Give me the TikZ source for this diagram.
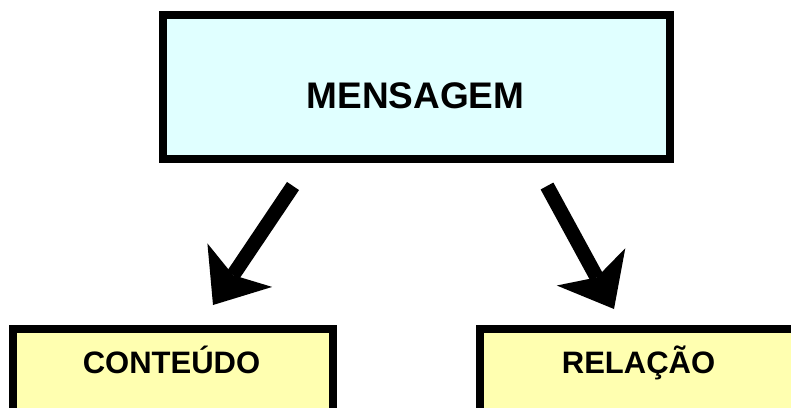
\documentclass[tikz,border=0pt]{standalone}
\usepackage{fontspec}
\setmainfont{Liberation Sans}
\usetikzlibrary{arrows.meta}
\definecolor{msgfill}{RGB}{224,255,255}
\definecolor{boxfill}{RGB}{255,255,176}

\begin{document}
\begin{tikzpicture}[x=1pt,y=-1pt,
		framebox/.style={draw,line width=8pt,inner sep=0pt},
		bigarrow/.style={line width=14.5pt,-{Stealth[length=48pt,width=78pt,inset=12pt,line width=0pt]}},
		bigtext/.style={anchor=base,font=\fontsize{37}{44}\selectfont\bfseries},
		smalltext/.style={anchor=base,font=\fontsize{31}{37}\selectfont\bfseries}]
			\useasboundingbox (0,0) rectangle (791,407);
			\clip (0,0) rectangle (791,407);
			% box centres
			\coordinate (m1) at (416.5,86.9);
			\coordinate (b1) at (173,404.5);
			\coordinate (b2) at (640,404.5);
			% arrow ends
			\coordinate (t1) at (293,186);
			\coordinate (h1) at (213,305);
			\coordinate (t2) at (547,186);
			\coordinate (h2) at (614,309);
			
			\node (msg) at (m1) [framebox,fill=msgfill,minimum width=507pt,minimum height=143.8pt] {};
			\node (cont) at (b1) [framebox,fill=boxfill,minimum width=320pt,minimum height=151pt] {};
			\node (rel) at (b2) [framebox,fill=boxfill,minimum width=320pt,minimum height=151pt] {};
			
			\node (msgtext) at (415.5,108.7) [bigtext] {MENSAGEM};
			\node (conttext) at (171.5,373) [smalltext] {CONTEÚDO};
			\node (reltext) at (638.5,373) [smalltext] {RELAÇÃO};
			
			\draw[bigarrow] (t1) -- (h1);
			\draw[bigarrow] (t2) -- (h2);
		\end{tikzpicture}
\end{document}
